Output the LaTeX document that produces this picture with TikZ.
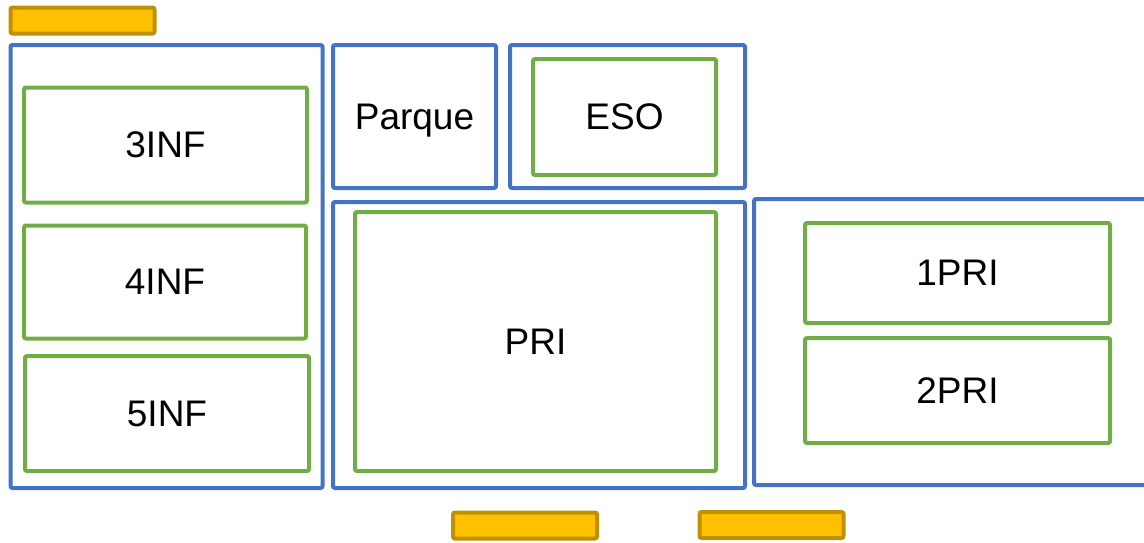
\documentclass[tikz,border=0pt]{standalone}
\usepackage{fontspec}
\setmainfont{Liberation Sans}
\usepackage{tikz}
\usetikzlibrary{positioning}
\definecolor{zoneblue}{HTML}{4472C4}
\definecolor{roomgreen}{HTML}{70AD47}
\definecolor{doorfill}{HTML}{FFC000}
\definecolor{doordraw}{HTML}{BF9000}

\tikzset{
  zone/.style={draw=zoneblue, line width=4pt, rounded corners=2pt, inner sep=0pt,
    text depth=0pt, font=\fontsize{37}{42}\selectfont},
  room/.style={draw=roomgreen, line width=4pt, rounded corners=2pt, inner sep=0pt,
    text depth=0pt, font=\fontsize{37}{42}\selectfont},
  door/.style={draw=doordraw, fill=doorfill, line width=4pt, rounded corners=2pt,
    inner sep=0pt, minimum width=144pt, minimum height=26pt}
}

\begin{document}
\begin{tikzpicture}[x=1pt,y=-1pt]
        \useasboundingbox (0,0) rectangle (1144,542);
        % Zones
        \node[zone, minimum width=312pt, minimum height=443pt] (inf) at (166.5,266.5) {};
        \node[zone, minimum width=163pt, minimum height=143pt] (parque) at (414.5,116.5) {Parque};
        \node[zone, minimum width=235pt, minimum height=143pt] (secundaria) at (627.5,116.5) {};
        \node[zone, minimum width=412pt, minimum height=286pt] (primaria) at (539,345) {};
        \node[zone, minimum width=400pt, minimum height=286pt] (primeros) at (954,342) {};
        % Rooms
        \node[room, minimum width=283pt, minimum height=115pt] (inf3) at (165.5,145) {3INF};
        \node[room, minimum width=282pt, minimum height=113pt] (inf4) at (165,282) {4INF};
        \node[room, minimum width=284pt, minimum height=115pt] (inf5) at (167,413.5) {5INF};
        \node[room, minimum width=183pt, minimum height=116pt] (eso) at (624.5,117) {ESO};
        \node[room, minimum width=361pt, minimum height=259pt] (pri) at (535.5,341.5) {PRI};
        \node[room, minimum width=305pt, minimum height=100pt] (pri1) at (957.5,273) {1PRI};
        \node[room, minimum width=305pt, minimum height=105pt] (pri2) at (957.5,390.5) {2PRI};
        % Doors
        \foreach \x/\y [count=\i] in {82.5/20.5, 525/525.5, 771.5/525} {
            \node[door] (door\i) at (\x,\y) {};
        }
\end{tikzpicture}
\end{document}
